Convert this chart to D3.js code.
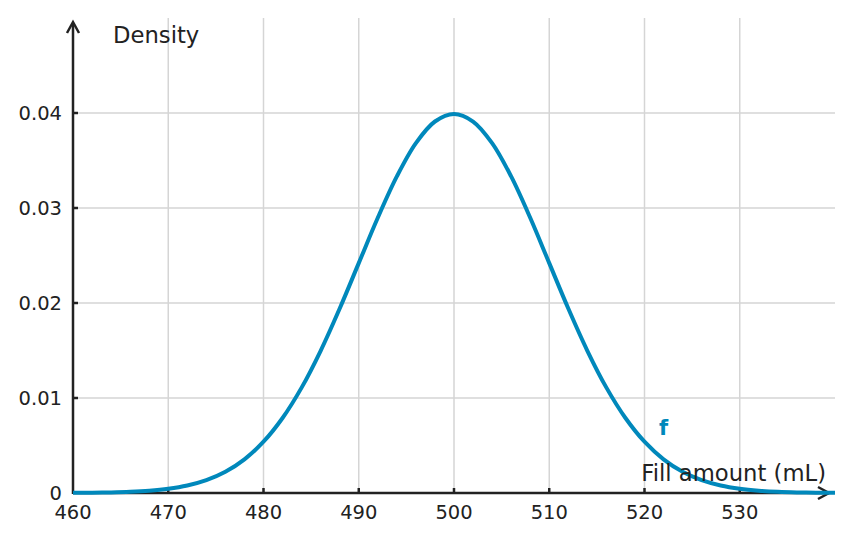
<!DOCTYPE html>
<html><head><meta charset="utf-8">
<script src="https://cdn.jsdelivr.net/npm/d3@7"></script>
<style>body{margin:0;background:#fff}svg{display:block}text{font-family:"DejaVu Sans",sans-serif;fill:#222}</style>
</head><body><svg id="c" width="852" height="542"></svg>
<script>
const fillAmount = [460,462,464,466,468,470,472,474,476,478,480,482,484,486,488,490,492,494,496,498,500,502,504,506,508,510,512,514,516,518,520,522,524,526,528,530,532,534,536,538,540];
const density = [0.0000134,0.0000292,0.0000612,0.000123,0.000238,0.000443,0.000792,0.001358,0.002239,0.003547,0.005399,0.007895,0.011092,0.014973,0.019419,0.024197,0.028969,0.033322,0.036827,0.039104,0.039894,0.039104,0.036827,0.033322,0.028969,0.024197,0.019419,0.014973,0.011092,0.007895,0.005399,0.003547,0.002239,0.001358,0.000792,0.000443,0.000238,0.000123,0.0000612,0.0000292,0.0000134];
const xTicks = [460,470,480,490,500,510,520,530];
const xGrid = [470,480,490,500,510,520,530];
const yTicks = [0,0.01,0.02,0.03,0.04];
const yTickLabels = ["0","0.01","0.02","0.03","0.04"];
const seriesLabel = "f";
const xTitle = "Fill amount (mL)";
const yTitle = "Density";

const svg = d3.select("#c");
const x = d3.scaleLinear().domain([460,540]).range([73,835]);
const y = d3.scaleLinear().domain([0,0.04]).range([493,113]);
const gridTop = 18, axisCol = "#222", gridCol = "#d5d5d5", lineCol = "#0088bb";

// grid
svg.append("g").selectAll("line").data(xGrid).join("line")
  .attr("x1",d=>x(d)).attr("x2",d=>x(d)).attr("y1",gridTop).attr("y2",y(0))
  .attr("stroke",gridCol).attr("stroke-width",1.5);
svg.append("g").selectAll("line").data(yTicks.filter(d=>d>0)).join("line")
  .attr("x1",x(460)).attr("x2",x(540)).attr("y1",d=>y(d)).attr("y2",d=>y(d))
  .attr("stroke",gridCol).attr("stroke-width",1.5);

// axes
const ax = svg.append("g");
ax.append("line").attr("x1",x(460)).attr("x2",829).attr("y1",y(0)).attr("y2",y(0)).attr("stroke",axisCol).attr("stroke-width",2.5);
ax.append("line").attr("x1",x(460)).attr("x2",x(460)).attr("y1",y(0)+1).attr("y2",23).attr("stroke",axisCol).attr("stroke-width",2.5);
ax.append("path").attr("d",`M${x(460)-6},${33} L${x(460)},${22} L${x(460)+6},${33}`).attr("fill","none").attr("stroke",axisCol).attr("stroke-width",2.5);
ax.append("path").attr("d",`M${818},${y(0)-6} L${829},${y(0)} L${818},${y(0)+6}`).attr("fill","none").attr("stroke",axisCol).attr("stroke-width",2.5);
ax.selectAll(".xt").data(xTicks.filter(d=>d>460)).join("line")
  .attr("x1",d=>x(d)).attr("x2",d=>x(d)).attr("y1",y(0)).attr("y2",y(0)-5)
  .attr("stroke",axisCol).attr("stroke-width",2.5);
ax.selectAll(".yt").data(yTicks.filter(d=>d>0)).join("line")
  .attr("x1",x(460)).attr("x2",x(460)+5).attr("y1",d=>y(d)).attr("y2",d=>y(d))
  .attr("stroke",axisCol).attr("stroke-width",2.5);

// curve
const pts = fillAmount.map((v,i)=>[v,density[i]]);
svg.append("path").datum(pts)
  .attr("d", d3.line().x(d=>x(d[0])).y(d=>y(d[1])).curve(d3.curveCatmullRom))
  .attr("fill","none").attr("stroke",lineCol).attr("stroke-width",4);

// tick labels
svg.append("g").selectAll("text").data(xTicks).join("text")
  .attr("x",d=>x(d)).attr("y",519).attr("text-anchor","middle").attr("font-size",19.5).text(d=>d);
svg.append("g").selectAll("text").data(yTicks).join("text")
  .attr("x",62).attr("y",d=>y(d)+7).attr("text-anchor","end").attr("font-size",19.5).text((d,i)=>yTickLabels[i]);

// titles
svg.append("text").attr("x",113).attr("y",43).attr("font-size",22.7).text(yTitle);
svg.append("text").attr("x",826).attr("y",481).attr("text-anchor","end").attr("font-size",22.7).text(xTitle);
svg.append("text").attr("x",x(522)).attr("y",435).attr("text-anchor","middle").attr("font-size",21).attr("font-weight","bold").style("fill",lineCol).text(seriesLabel);
</script></body></html>
